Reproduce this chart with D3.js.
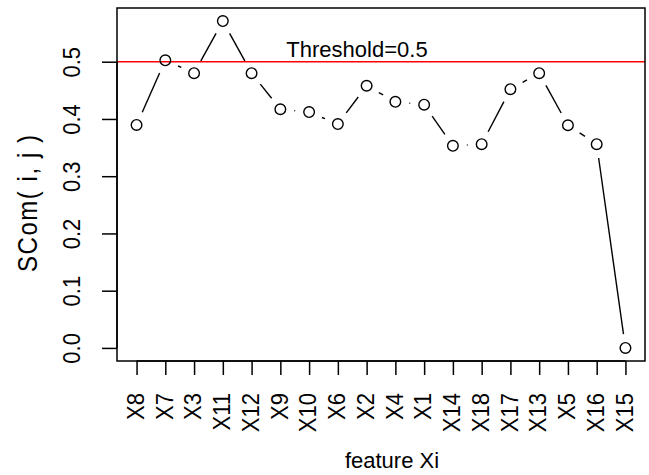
<!DOCTYPE html>
<html>
<head>
<meta charset="utf-8">
<script src="https://cdn.jsdelivr.net/npm/d3@7"></script>
<style>
  html, body { margin: 0; padding: 0; background: #fff; }
  svg { display: block; }
  text { font-family: "Liberation Sans", Arial, Helvetica, sans-serif; fill: #000; }
</style>
</head>
<body>
<svg width="649" height="475"></svg>
<script>
const features = ["X8", "X7", "X3", "X11", "X12", "X9", "X10", "X6", "X2", "X4",
  "X1", "X14", "X18", "X17", "X13", "X5", "X16", "X15"];
const scom = [0.3895, 0.5025, 0.480, 0.571, 0.480, 0.417, 0.412, 0.391, 0.458, 0.430,
  0.425, 0.353, 0.356, 0.452, 0.480, 0.389, 0.356, 0.0];
const yTicks = [0.0, 0.1, 0.2, 0.3, 0.4, 0.5];
const threshold = 0.5;
const thresholdLabel = "Threshold=0.5";
const xTitle = "feature Xi";
const yTitle = "SCom( i, j )";

const svg = d3.select("svg");
const box = { left: 117, right: 645, top: 8, bottom: 361 };
const fs = 22;
// rotated labels in the original are a bit taller across the glyphs
const rotStretch = 1.12;

const data = features.map((f, i) => ({ f, v: scom[i] }));

// R style axes: 4% padding each side
const x = d3.scalePoint().domain(features).range([box.left, box.right]).padding(0.68);
const [lo, hi] = d3.extent(scom);
const pad = (hi - lo) * 0.04;
const y = d3.scaleLinear().domain([lo - pad, hi + pad]).range([box.bottom, box.top]);

// threshold line
svg.append("line")
  .attr("x1", box.left).attr("x2", box.right)
  .attr("y1", y(threshold)).attr("y2", y(threshold))
  .attr("stroke", "#ff0000").attr("stroke-width", 1.6);

svg.append("text")
  .attr("x", 357).attr("y", y(threshold) - 4.5)
  .attr("text-anchor", "middle")
  .attr("font-size", fs)
  .text(thresholdLabel);

// type = "b": segments with gaps around the points
const gap = 14;
const segs = [];
for (let i = 0; i < data.length - 1; i++) {
  const x0 = x(data[i].f), y0 = y(data[i].v);
  const x1 = x(data[i + 1].f), y1 = y(data[i + 1].v);
  const d = Math.hypot(x1 - x0, y1 - y0);
  if (d > 2 * gap) {
    const ux = (x1 - x0) / d, uy = (y1 - y0) / d;
    segs.push([x0 + ux * gap, y0 + uy * gap, x1 - ux * gap, y1 - uy * gap]);
  }
}
svg.append("g").selectAll("line").data(segs).join("line")
  .attr("x1", d => d[0]).attr("y1", d => d[1])
  .attr("x2", d => d[2]).attr("y2", d => d[3])
  .attr("stroke", "#000").attr("stroke-width", 1.4);

svg.append("g").selectAll("circle").data(data).join("circle")
  .attr("cx", d => x(d.f)).attr("cy", d => y(d.v))
  .attr("r", 5.3)
  .attr("fill", "none").attr("stroke", "#000").attr("stroke-width", 1.4);

// box
svg.append("rect")
  .attr("x", box.left).attr("y", box.top)
  .attr("width", box.right - box.left).attr("height", box.bottom - box.top)
  .attr("fill", "none").attr("stroke", "#000").attr("stroke-width", 1.5);

// y axis
const yAxis = svg.append("g")
  .attr("transform", `translate(${box.left},0)`)
  .call(d3.axisLeft(y).tickValues(yTicks).tickFormat(d3.format(".1f")).tickSize(15));
yAxis.select(".domain")
  .attr("d", `M0,${y(yTicks[0])}V${y(yTicks[yTicks.length - 1])}`)
  .attr("stroke-width", 1.5);
yAxis.selectAll(".tick line").attr("stroke-width", 1.5);
yAxis.selectAll(".tick text")
  .attr("font-size", fs)
  .attr("font-family", null)
  .attr("x", 0).attr("y", 0).attr("dy", 0)
  .attr("text-anchor", "middle")
  .attr("transform", `translate(-37,0) rotate(-90) scale(1,${rotStretch})`);

// x axis
const xAxis = svg.append("g")
  .attr("transform", `translate(0,${box.bottom})`)
  .call(d3.axisBottom(x).tickSize(14));
xAxis.select(".domain")
  .attr("d", `M${x(features[0])},0H${x(features[features.length - 1])}`)
  .attr("stroke-width", 1.5);
xAxis.selectAll(".tick line").attr("stroke-width", 1.5);
xAxis.selectAll(".tick text")
  .attr("font-size", fs)
  .attr("font-family", null)
  .attr("x", 0).attr("y", 0).attr("dy", 0)
  .attr("text-anchor", "end")
  .attr("transform", `translate(6.8,32) rotate(-90) scale(1,${rotStretch})`);

// axis titles
svg.append("text")
  .attr("x", 392).attr("y", 468)
  .attr("text-anchor", "middle")
  .attr("font-size", fs)
  .text(xTitle);

svg.append("text")
  .attr("transform", `translate(37,203.5) rotate(-90) scale(1,${rotStretch})`)
  .attr("text-anchor", "middle")
  .attr("font-size", 24)
  .attr("textLength", 137)
  .attr("lengthAdjust", "spacing")
  .text(yTitle);
</script>
</body>
</html>
